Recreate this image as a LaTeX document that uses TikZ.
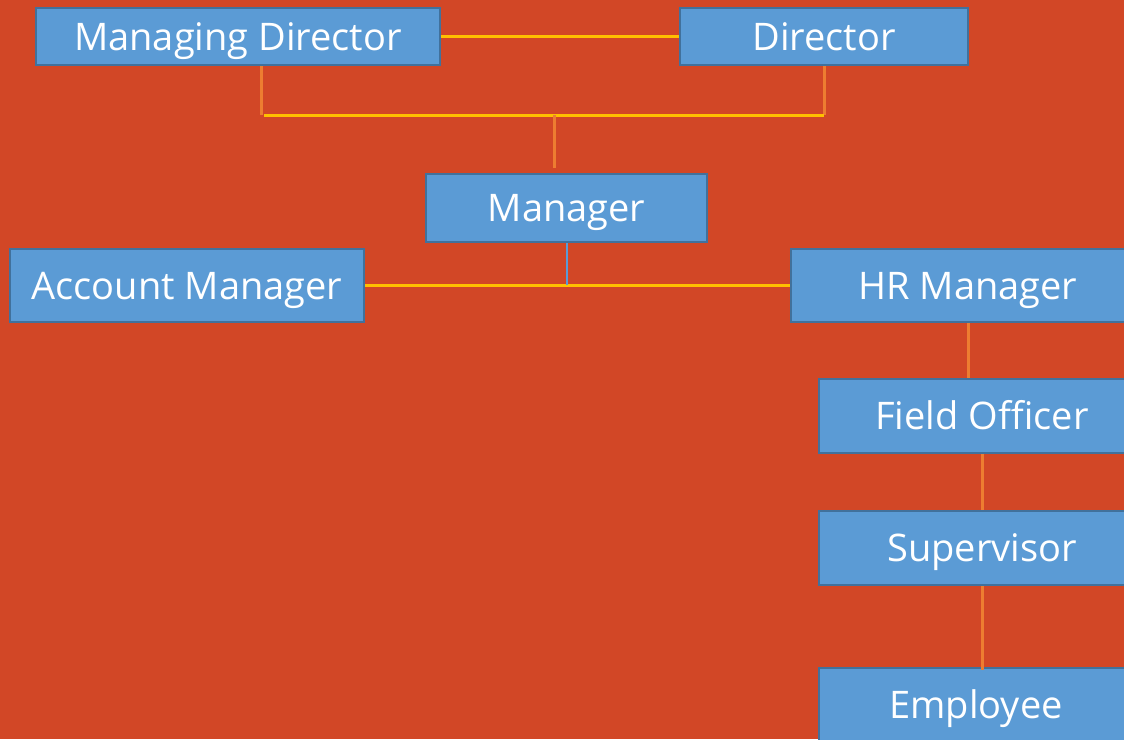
\documentclass[tikz,border=0pt]{standalone}
\usepackage{fontspec}
\setmainfont{Open Sans}
\definecolor{bg}{HTML}{D24726}
\definecolor{boxfill}{HTML}{5B9BD5}
\definecolor{boxline}{HTML}{41719C}
\definecolor{yel}{HTML}{FFC000}
\definecolor{org}{HTML}{ED7D31}
\tikzset{
  rolebox/.style={draw=boxline, line width=2pt, fill=boxfill, text=white, inner sep=0pt,
    font=\fontsize{38}{44}\selectfont, text height=27pt, text depth=0pt},
  yline/.style={draw=yel, line width=3pt},
  oline/.style={draw=org, line width=3pt},
  bline/.style={draw=boxfill, line width=1.5pt},
}
\begin{document}
\begin{tikzpicture}[x=1pt,y=-1pt]
\useasboundingbox (0,0) rectangle (1124,739);
\fill[bg] (0,0) rectangle (1124,739);
\clip (0,0) rectangle (1124,739);
\node[rolebox, minimum width=404pt, minimum height=57pt] (md) at (238,36.5) {Managing Director};
\node[rolebox, minimum width=288pt, minimum height=57pt] (dir) at (824,36.5) {Director};
\node[rolebox, minimum width=281pt, minimum height=68pt] (mgr) at (566.5,208) {Manager};
\node[rolebox, minimum width=354pt, minimum height=73pt] (acc) at (187,285.5) {Account Manager};
\node[rolebox, minimum width=354pt, minimum height=73pt] (hr) at (968,285.5) {HR Manager};
\node[rolebox, minimum width=326pt, minimum height=74pt] (fo) at (982,416) {Field Officer};
\node[rolebox, minimum width=326pt, minimum height=74pt] (sup) at (982,548) {Supervisor};
\node[rolebox, minimum width=314pt, minimum height=74pt] (emp) at (976,705) {Employee};
% top connectors
\draw[yline] (md.east) -- (dir.west);
\coordinate (mdx) at (261,115);
\coordinate (dirx) at (824,115);
\coordinate (midx) at (554,115);
\draw[oline] (md.south -| mdx) -- (mdx);
\draw[oline] (dir.south) -- (dirx);
\draw[yline] (264,115) -- (dirx);
\draw[oline] (midx) -- (554,168);
% manager branch
\coordinate (mj) at (567,285);
\draw[yline] (acc.east) -- (hr.west);
\draw[bline] (mgr.south -| mj) -- (mj);
% HR chain
\draw[oline] (hr.south) -- (fo.north -| hr.south);
\draw[oline] (fo.south) -- (sup.north);
\draw[oline] (sup.south) -- ([yshift=-3pt]emp.north -| sup.south);
\end{tikzpicture}
\end{document}
